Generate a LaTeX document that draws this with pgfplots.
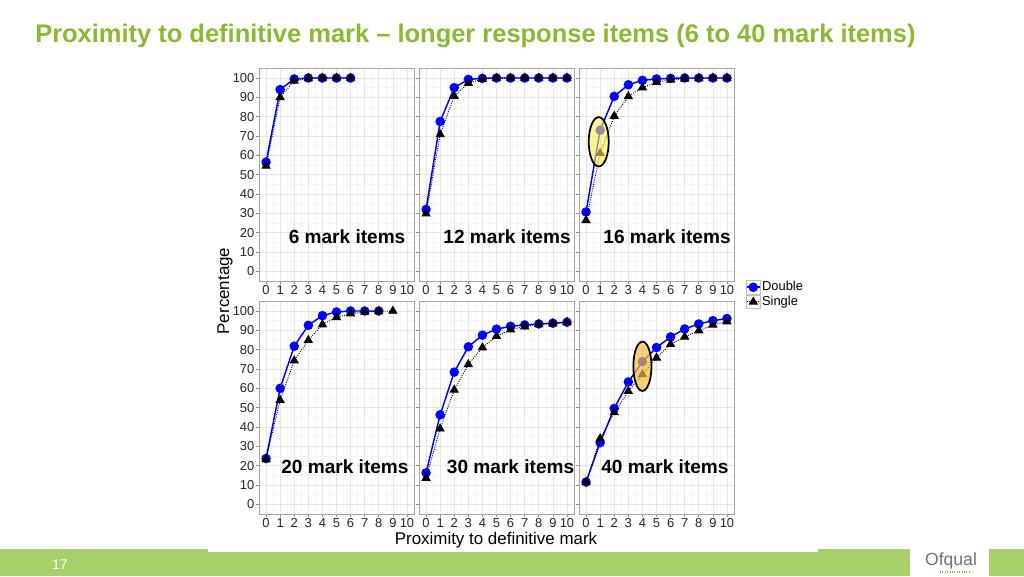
\documentclass[border=0pt]{standalone}
\usepackage{fontspec}
\setmainfont{Liberation Sans}
\usepackage{pgfplots}
\pgfplotsset{compat=1.18}

\definecolor{titlegreen}{RGB}{138,185,50}
\definecolor{bargreen}{RGB}{167,207,106}
\definecolor{dblue}{RGB}{0,0,255}
\definecolor{hlyellow}{RGB}{250,238,80}
\definecolor{hlorange}{RGB}{245,190,60}

\tikzset{lbl/.style={font=\bfseries\fontsize{14.3}{15}\selectfont}}

% one px of the reference = 0.75pt
\pgfplotsset{
  panel/.style={
    scale only axis, width=116.25pt, height=159.5pt,
    xmin=-0.5, xmax=10.5, ymin=-5, ymax=105,
    xtick={0,...,10}, ytick={0,10,...,100},
    minor xtick={0.5,1.5,...,9.5}, minor ytick={5,15,...,95},
    grid=both,
    major grid style={black!10, line width=0.5pt},
    minor grid style={black!4, line width=0.4pt},
    axis line style={black!35, line width=0.7pt},
    tick align=outside, tick pos=left,
    major tick length=2.3pt, minor tick length=0pt,
    every tick/.style={black!45, line width=0.5pt},
    ticklabel style={font=\fontsize{9.7}{10}\selectfont, text=black!85, inner sep=1pt},
    /pgf/number format/assume math mode=true,
    clip marker paths=true,
    legend image code/.code={
      \draw[draw=black!25, fill=white, solid, line width=0.4pt] (0pt,-5pt) rectangle (10pt,5pt);
      \draw[mark repeat=2, mark phase=2] plot coordinates {(0pt,0pt) (5pt,0pt) (10pt,0pt)};
    },
  },
  dbl/.style={dblue, line width=1.1pt, mark=*, mark size=3pt, mark options={solid, fill=dblue}},
  sgl/.style={black, densely dotted, line width=0.7pt, mark=triangle*, mark size=3.4pt, mark options={solid, fill=black}},
}

\begin{document}
\begin{tikzpicture}
% page and slide decorations
\begin{scope}[x=0.75pt, y=0.75pt]
  \fill[white] (0,0) rectangle (1024,576);
  \fill[bargreen] (0,0) rectangle (1024,27);
  \fill[white] (208,24) rectangle (818,27);
  \fill[white] (910,0) rectangle (989,27);
  \node[anchor=base west, inner sep=0pt, text=titlegreen, font=\bfseries\fontsize{19.1}{21}\selectfont] at (35,533)
    {Proximity to definitive mark -- longer response items (6 to 40 mark items)};
  \node[text=white, font=\fontsize{10.5}{11}\selectfont] at (60,11) {17};
  \node[text=black!55, font=\fontsize{13.2}{14}\selectfont] at (951,15) {Ofqual};
  \draw[titlegreen, line width=0.8pt, densely dotted] (940,4) -- (970,4);
  \node[font=\fontsize{12.7}{13}\selectfont] at (496,36) {Proximity to definitive mark};
  \node[rotate=90, font=\fontsize{12.7}{13}\selectfont] at (225,285) {Percentage};
\end{scope}

% 6 mark items
\begin{axis}[panel, at={(259*0.75pt,295*0.75pt)}, anchor=south west]
\addplot[dbl] coordinates {(0,56.5) (1,94) (2,99.5) (3,100) (4,100) (5,100) (6,100)};
\addplot[sgl] coordinates {(0,54.5) (1,90) (2,98.5) (3,99.8) (4,100) (5,100) (6,100)};
\node[lbl] at (axis cs:5.75,18) {6 mark items};
\end{axis}

% 12 mark items
\begin{axis}[panel, yticklabels={}, at={(419*0.75pt,295*0.75pt)}, anchor=south west]
\addplot[dbl] coordinates {(0,32) (1,77.5) (2,95) (3,99.3) (4,99.8) (5,100) (6,100) (7,100) (8,100) (9,100) (10,100)};
\addplot[sgl] coordinates {(0,29.8) (1,70.8) (2,90.6) (3,97.3) (4,99.4) (5,99.9) (6,100) (7,100) (8,100) (9,100) (10,100)};
\node[lbl] at (axis cs:5.75,18) {12 mark items};
\end{axis}

% 16 mark items
\begin{axis}[panel, yticklabels={}, at={(579*0.75pt,295*0.75pt)}, anchor=south west,
  legend style={at={(1.075,0.005)}, anchor=north west, draw=none, fill=none,
    font=\fontsize{9.7}{10}\selectfont, inner sep=0pt, row sep=0.5pt,
    nodes={inner sep=1pt}},
  legend cell align=left]
\addplot[dbl] coordinates {(0,30.7) (1,73) (2,90.5) (3,96.5) (4,98.8) (5,99.5) (6,99.8) (7,100) (8,100) (9,100) (10,100)};
\addplot[sgl] coordinates {(0,26.4) (1,61.1) (2,80.3) (3,90.5) (4,95) (5,97.8) (6,99) (7,99.6) (8,99.8) (9,100) (10,100)};
\draw[line width=1.3pt, fill=hlyellow, fill opacity=0.6] (axis cs:0.9,67) ellipse [x radius=7.5pt, y radius=18.5pt];
\node[lbl] at (axis cs:5.75,18) {16 mark items};
\legend{Double, Single}
\end{axis}

% 20 mark items
\begin{axis}[panel, at={(259*0.75pt,62*0.75pt)}, anchor=south west]
\addplot[dbl] coordinates {(0,23.7) (1,60) (2,81.8) (3,92.6) (4,97.6) (5,99.5) (6,100) (7,100) (8,100)};
\addplot[sgl] coordinates {(0,23.3) (1,53.9) (2,74.3) (3,84.9) (4,93) (5,96.7) (6,98.6) (7,99.5) (8,99.8) (9,100)};
\node[lbl] at (axis cs:5.6,19.5) {20 mark items};
\end{axis}

% 30 mark items
\begin{axis}[panel, yticklabels={}, at={(419*0.75pt,62*0.75pt)}, anchor=south west]
\addplot[dbl] coordinates {(0,16.3) (1,46.3) (2,68.4) (3,81.5) (4,87.5) (5,90.6) (6,92.1) (7,92.8) (8,93.3) (9,93.7) (10,94.2)};
\addplot[sgl] coordinates {(0,13.6) (1,39.1) (2,59.2) (3,72.4) (4,81.1) (5,87) (6,90.4) (7,91.9) (8,93.1) (9,93.5) (10,94.3)};
\node[lbl] at (axis cs:6,19.5) {30 mark items};
\end{axis}

% 40 mark items
\begin{axis}[panel, yticklabels={}, at={(579*0.75pt,62*0.75pt)}, anchor=south west]
\addplot[dbl] coordinates {(0,11.5) (1,31.9) (2,49.6) (3,63.3) (4,73.8) (5,81.1) (6,86.6) (7,90.7) (8,93.3) (9,95) (10,96.1)};
\addplot[sgl] coordinates {(0,11.5) (1,34) (2,47.5) (3,58.5) (4,67.2) (5,75.8) (6,82.8) (7,86.6) (8,89.9) (9,92.8) (10,94.5)};
\draw[line width=1.3pt, fill=hlorange, fill opacity=0.7] (axis cs:4,71.4) ellipse [x radius=6.8pt, y radius=18.5pt];
\node[lbl] at (axis cs:5.6,19.5) {40 mark items};
\end{axis}
\end{tikzpicture}
\end{document}
